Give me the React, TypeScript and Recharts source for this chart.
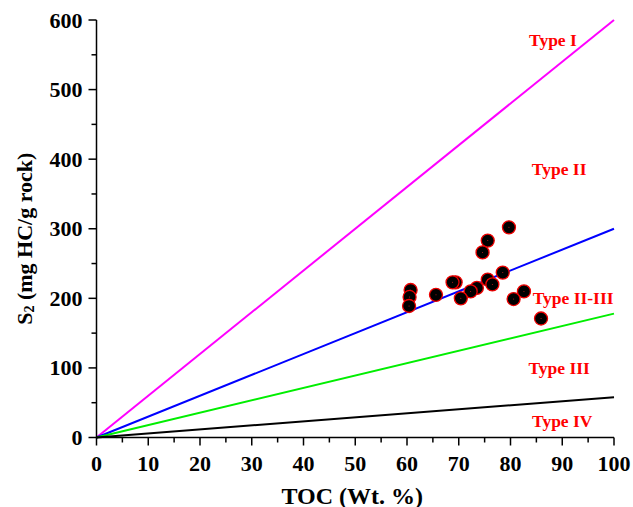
import React from 'react';
import { ComposedChart, Scatter, Line, XAxis, YAxis } from 'recharts';

// sample measurements
const tocValues = [79.7, 75.6, 74.6, 78.5, 75.6, 76.5, 73.5, 72.3, 69.4, 68.8, 70.4, 65.6, 60.7, 60.5, 60.4, 82.6, 80.6, 85.9];
const s2Values = [302, 283, 266, 237, 227, 220, 215, 210, 223, 223, 200, 205, 212, 202, 189, 210, 199, 171];

// kerogen boundary lines, from origin to TOC = 100
const lineToc = [0, 100];
const lineS2End = [600, 300, 178, 58];
const lineColors = ['#ff00ff', '#0000ff', '#00ee00', '#000000'];

// zone labels (data coordinates)
const zoneNames = ['Type I', 'Type II', 'Type II-III', 'Type III', 'Type IV'];
const zoneToc = [88.2, 89.4, 92.1, 89.4, 90];
const zoneS2 = [571, 386, 200, 100, 24];

const xTicks = [0, 5, 10, 15, 20, 25, 30, 35, 40, 45, 50, 55, 60, 65, 70, 75, 80, 85, 90, 95, 100];
const yTicks = [0, 50, 100, 150, 200, 250, 300, 350, 400, 450, 500, 550, 600];

const samples = tocValues.map((x, i) => ({ x, y: s2Values[i] }));
const zones = zoneNames.map((label, i) => ({ x: zoneToc[i], y: zoneS2[i], label }));

const FONT = 'Liberation Serif, Times New Roman, serif';

const BottomTick = (props: any) => {
  const { x, y, payload } = props;
  const major = payload.value % 10 === 0;
  return (
    <g>
      <line x1={x} x2={x} y1={y} y2={y + (major ? 8 : 5)} stroke="#000" strokeWidth={1.5} />
      {major && (
        <text x={x} y={y + 26} textAnchor="middle" dominantBaseline="central" fontFamily={FONT} fontWeight="bold" fontSize={22} fill="#000">
          {payload.value}
        </text>
      )}
    </g>
  );
};

const TopTick = (props: any) => {
  const { x, y, payload } = props;
  const major = payload.value % 10 === 0;
  return <line x1={x} x2={x} y1={y} y2={y + (major ? 7 : 4)} stroke="#000" strokeWidth={1.5} />;
};

const LeftTick = (props: any) => {
  const { x, y, payload } = props;
  const major = payload.value % 100 === 0;
  return (
    <g>
      <line x1={x} x2={x - (major ? 8 : 5)} y1={y} y2={y} stroke="#000" strokeWidth={1.5} />
      {major && (
        <text x={x - 14} y={y} textAnchor="end" dominantBaseline="central" fontFamily={FONT} fontWeight="bold" fontSize={22} fill="#000">
          {payload.value}
        </text>
      )}
    </g>
  );
};

const RightTick = (props: any) => {
  const { x, y, payload } = props;
  const major = payload.value % 100 === 0;
  return <line x1={x} x2={x - (major ? 7 : 4)} y1={y} y2={y} stroke="#000" strokeWidth={1.5} />;
};

const SampleDot = (props: any) => {
  const { cx, cy } = props;
  return (
    <g>
      <circle cx={cx} cy={cy} r={6.5} fill="#000" stroke="#ee0000" strokeWidth={1.3} />
      <circle cx={cx} cy={cy} r={0.5} fill="#cc2020" />
    </g>
  );
};

const ZoneLabel = (props: any) => {
  const { cx, cy, payload } = props;
  return (
    <text x={cx} y={cy} textAnchor="middle" dominantBaseline="central" fontFamily={FONT} fontWeight="bold" fontSize={17.5} fill="#ff0000">
      {payload.label}
    </text>
  );
};

const XLabel = (props: any) => {
  const { viewBox } = props;
  return (
    <text x={viewBox.x + viewBox.width / 2 - 3} y={viewBox.y + 58} textAnchor="middle" dominantBaseline="central" fontFamily={FONT} fontWeight="bold" fontSize={24} fill="#000">
      TOC (Wt. %)
    </text>
  );
};

const YLabel = (props: any) => {
  const { viewBox } = props;
  const cx = 24;
  const cy = viewBox.y + viewBox.height / 2 + 10;
  return (
    <text transform={`translate(${cx},${cy}) rotate(-90)`} textAnchor="middle" dominantBaseline="central" fontFamily={FONT} fontWeight="bold" fontSize={22} fill="#000">
      S<tspan fontSize={14} dy={5}>2</tspan>
      <tspan dy={-5}> (mg HC/g rock)</tspan>
    </text>
  );
};

export default function App() {
  return (
    <div style={{ background: '#fff', width: 633, height: 507 }}>
      <style>{'body { margin: 0; }'}</style>
      <ComposedChart width={633} height={507} margin={{ top: 20, right: 19, bottom: 0, left: 0 }}>
        <XAxis
          dataKey="x"
          type="number"
          domain={[0, 100]}
          ticks={xTicks}
          interval={0}
          tickSize={0}
          tickMargin={0}
          tick={<BottomTick />}
          axisLine={{ stroke: '#000', strokeWidth: 1.5 }}
          tickLine={false}
          height={69.5}
          label={<XLabel />}
        />
        <XAxis
          xAxisId="top"
          orientation="top"
          type="number"
          domain={[0, 100]}
          ticks={xTicks}
          interval={0}
          tickSize={0}
          tickMargin={0}
          tick={<TopTick />}
          axisLine={{ stroke: '#000', strokeWidth: 1.5 }}
          tickLine={false}
          height={0}
        />
        <YAxis
          dataKey="y"
          type="number"
          domain={[0, 600]}
          ticks={yTicks}
          interval={0}
          tickSize={0}
          tickMargin={0}
          tick={<LeftTick />}
          axisLine={{ stroke: '#000', strokeWidth: 1.5 }}
          tickLine={false}
          width={96.5}
          label={<YLabel />}
        />
        <YAxis
          yAxisId="right"
          orientation="right"
          type="number"
          domain={[0, 600]}
          ticks={yTicks}
          interval={0}
          tickSize={0}
          tickMargin={0}
          tick={<RightTick />}
          axisLine={{ stroke: '#000', strokeWidth: 1.5 }}
          tickLine={false}
          width={0}
        />
        <Scatter data={samples} shape={<SampleDot />} isAnimationActive={false} />
        {lineS2End.map((end, i) => (
          <Line
            key={i}
            data={lineToc.map((x, j) => ({ x, y: j === 0 ? 0 : end }))}
            dataKey="y"
            stroke={lineColors[i]}
            strokeWidth={2}
            dot={false}
            activeDot={false}
            isAnimationActive={false}
          />
        ))}
        <Scatter data={zones} shape={<ZoneLabel />} isAnimationActive={false} />
      </ComposedChart>
    </div>
  );
}
